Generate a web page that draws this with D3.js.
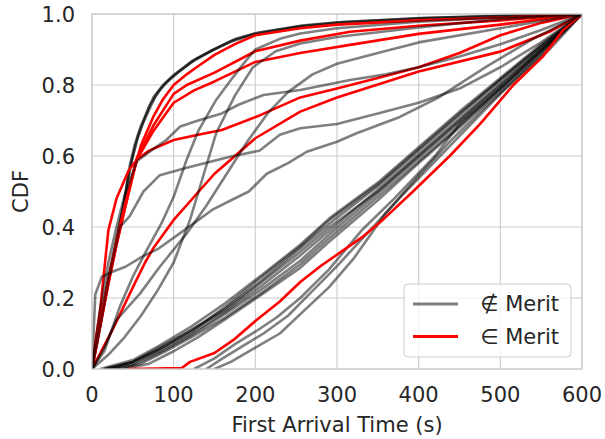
<!DOCTYPE html>
<html>
<head>
<meta charset="utf-8">
<script src="https://d3js.org/d3.v7.min.js"></script>
<style>
  body { margin: 0; background: white; }
  text { font-family: "DejaVu Sans", sans-serif; fill: #262626; }
</style>
</head>
<body>
<svg width="605" height="439"></svg>
<script>
// tick labels
var xTicks = [0, 100, 200, 300, 400, 500, 600];
var yTicks = [0.0, 0.2, 0.4, 0.6, 0.8, 1.0];

// not in Merit: fast curves at the top (several overlapping)
var grayTop1 = [[0,0],[5,0.07],[10,0.13],[20,0.25],[30,0.36],[34,0.41],[40,0.48],[46,0.57],[52,0.63],[59,0.68],[75,0.765],[87,0.8],[100,0.828],[124,0.87],[149,0.9],[173,0.927],[200,0.946],[255,0.966],[300,0.976],[400,0.988],[500,0.995],[600,1]];
var grayTop2 = [[0,0],[5,0.075],[10,0.14],[20,0.26],[30,0.37],[36,0.43],[42,0.5],[48,0.58],[55,0.645],[62,0.69],[78,0.77],[90,0.805],[105,0.835],[128,0.874],[152,0.903],[176,0.93],[205,0.948],[260,0.968],[310,0.978],[410,0.989],[510,0.995],[600,1]];
var grayTop3 = [[0,0],[6,0.07],[12,0.15],[22,0.27],[31,0.37],[38,0.45],[44,0.54],[50,0.6],[57,0.66],[70,0.74],[84,0.79],[98,0.822],[120,0.862],[145,0.895],[170,0.922],[198,0.942],[250,0.963],[305,0.975],[405,0.987],[505,0.994],[600,1]];

// not in Merit: middle curves
var grayKnee = [[0,0],[4,0.21],[12,0.26],[25,0.274],[41,0.288],[61,0.316],[82,0.34],[102,0.373],[122,0.406],[147,0.448],[171,0.476],[192,0.5],[214,0.55],[240,0.58],[263,0.612],[300,0.64],[324,0.664],[377,0.71],[426,0.767],[483,0.852],[540,0.93],[600,1]];
var grayHighKnee = [[0,0],[10,0.17],[20,0.3],[30,0.4],[40,0.49],[55,0.585],[75,0.62],[91,0.645],[108,0.683],[130,0.7],[159,0.72],[180,0.745],[210,0.772],[255,0.786],[316,0.814],[360,0.83],[400,0.85],[450,0.88],[500,0.915],[550,0.955],[600,1]];
var grayPlateau = [[0,0],[10,0.12],[20,0.25],[34,0.4],[46,0.43],[63,0.5],[83,0.546],[116,0.567],[169,0.598],[205,0.615],[230,0.66],[255,0.678],[300,0.69],[350,0.72],[400,0.75],[450,0.79],[500,0.85],[550,0.92],[600,1]];
var graySteep1 = [[0,0],[15,0.05],[34,0.175],[50,0.26],[67,0.335],[85,0.41],[100,0.485],[116,0.59],[130,0.67],[152,0.758],[173,0.823],[189,0.87],[200,0.9],[230,0.93],[255,0.945],[300,0.96],[400,0.978],[500,0.99],[600,1]];
var graySteep2 = [[0,0],[20,0.04],[40,0.09],[60,0.15],[80,0.22],[100,0.3],[120,0.42],[137,0.55],[152,0.664],[175,0.77],[197,0.85],[225,0.895],[255,0.917],[300,0.935],[400,0.962],[500,0.985],[600,1]];
var graySlow = [[0,0],[15,0.06],[30,0.138],[59,0.213],[83,0.288],[116,0.382],[140,0.46],[165,0.55],[190,0.64],[215,0.72],[240,0.78],[270,0.83],[300,0.86],[350,0.89],[400,0.92],[500,0.96],[600,1]];

// not in Merit: late, almost linear curves
var grayLate1 = [[15,0],[50,0.02],[82,0.06],[122,0.11],[163,0.17],[208,0.25],[255,0.34],[291,0.41],[350,0.515],[400,0.615],[450,0.715],[500,0.815],[550,0.91],[600,1]];
var grayLate2 = [[20,0],[50,0.015],[82,0.05],[122,0.1],[163,0.16],[208,0.235],[255,0.32],[291,0.39],[350,0.505],[400,0.605],[450,0.705],[500,0.805],[550,0.905],[600,1]];
var grayLate3 = [[25,0],[50,0.01],[82,0.045],[122,0.095],[163,0.155],[208,0.225],[255,0.305],[291,0.38],[350,0.495],[400,0.595],[450,0.695],[500,0.795],[550,0.9],[600,1]];
var grayLate4 = [[10,0],[50,0.025],[82,0.065],[122,0.12],[163,0.185],[208,0.265],[255,0.35],[291,0.425],[350,0.525],[400,0.625],[450,0.725],[500,0.82],[550,0.915],[600,1]];
var grayLate5 = [[30,0],[60,0.015],[90,0.05],[122,0.09],[163,0.145],[208,0.215],[255,0.295],[291,0.37],[350,0.485],[400,0.585],[450,0.685],[500,0.79],[550,0.895],[600,1]];
var grayLate6 = [[20,0],[50,0.02],[82,0.055],[122,0.105],[163,0.175],[208,0.26],[255,0.345],[291,0.42],[350,0.52],[400,0.62],[450,0.72],[500,0.815],[550,0.91],[600,1]];
var grayLate7 = [[40,0],[70,0.015],[100,0.05],[130,0.09],[163,0.14],[208,0.21],[255,0.285],[291,0.36],[350,0.475],[400,0.58],[450,0.68],[500,0.785],[550,0.89],[600,1]];
var grayLate8 = [[15,0],[50,0.02],[82,0.055],[122,0.11],[163,0.165],[208,0.245],[255,0.33],[291,0.4],[350,0.5],[400,0.6],[450,0.7],[500,0.8],[550,0.9],[600,1]];
var grayLate9 = [[125,0],[150,0.03],[175,0.07],[200,0.105],[226,0.145],[255,0.2],[290,0.28],[330,0.39],[370,0.48],[420,0.6],[450,0.69],[500,0.79],[550,0.895],[600,1]];
var grayLate10 = [[140,0],[160,0.03],[185,0.065],[210,0.1],[240,0.15],[270,0.22],[300,0.29],[340,0.39],[380,0.49],[420,0.585],[460,0.68],[500,0.775],[550,0.885],[600,1]];
var grayLate11 = [[150,0],[170,0.02],[200,0.06],[230,0.1],[260,0.165],[290,0.23],[320,0.31],[360,0.44],[400,0.545],[440,0.645],[480,0.735],[520,0.82],[560,0.9],[600,1]];

// in Merit
var red1 = [[0,0],[10,0.13],[20,0.25],[30,0.36],[40,0.46],[50,0.55],[60,0.63],[75,0.71],[87,0.76],[100,0.8],[116,0.83],[128,0.85],[150,0.885],[175,0.915],[200,0.94],[255,0.96],[300,0.97],[400,0.982],[500,0.99],[600,1]];
var red2 = [[0,0],[10,0.12],[20,0.24],[30,0.35],[40,0.45],[55,0.595],[75,0.685],[100,0.775],[116,0.8],[150,0.835],[200,0.895],[255,0.925],[316,0.95],[400,0.967],[500,0.982],[600,1]];
var red3 = [[0,0],[10,0.12],[20,0.24],[30,0.35],[40,0.45],[55,0.59],[75,0.67],[100,0.75],[125,0.785],[150,0.81],[200,0.865],[255,0.89],[316,0.913],[400,0.944],[500,0.97],[600,1]];
var red4 = [[0,0],[5,0.09],[10,0.166],[20,0.39],[30,0.48],[45,0.56],[55,0.59],[70,0.615],[100,0.645],[130,0.66],[159,0.673],[206,0.715],[255,0.765],[300,0.79],[350,0.82],[400,0.85],[450,0.89],[500,0.94],[550,0.975],[600,1]];
var red5 = [[0,0],[25,0.11],[50,0.23],[65,0.3],[75,0.34],[100,0.42],[150,0.55],[200,0.65],[255,0.725],[300,0.765],[400,0.838],[500,0.894],[560,0.95],[600,1]];
var red6 = [[45,0],[110,0.003],[120,0.02],[150,0.045],[175,0.085],[200,0.135],[230,0.19],[255,0.245],[280,0.29],[305,0.33],[330,0.37],[356,0.42],[393,0.5],[438,0.6],[475,0.69],[516,0.8],[552,0.88],[577,0.955],[600,1]];

var grayBack = [grayTop1, grayTop2, grayTop3, grayLate1, grayLate2, grayLate3, grayLate4, grayLate5, grayLate6, grayLate7, grayLate8, grayLate9, grayLate10, grayLate11];
var redCurves = [red1, red2, red3, red4, red5, red6];
var grayFront = [grayKnee, grayHighKnee, grayPlateau, graySteep1, graySteep2, graySlow];

var legendLabels = ["\u2209 Merit", "\u2208 Merit"];

var svg = d3.select("svg");
var xs = d3.scaleLinear().domain([0, 600]).range([92, 582]);
var ys = d3.scaleLinear().domain([0, 1]).range([369, 14]);

//grid
svg.append("g").selectAll("line").data(xTicks).enter().append("line")
   .attr("x1", d => xs(d)).attr("x2", d => xs(d))
   .attr("y1", ys(0)).attr("y2", ys(1))
   .style("stroke", "#cccccc").style("stroke-width", 1.1);
svg.append("g").selectAll("line").data(yTicks).enter().append("line")
   .attr("x1", xs(0)).attr("x2", xs(600))
   .attr("y1", d => ys(d)).attr("y2", d => ys(d))
   .style("stroke", "#cccccc").style("stroke-width", 1.1);

//clip for the curves
svg.append("clipPath").attr("id", "plotclip").append("rect")
   .attr("x", xs(0)).attr("y", ys(1))
   .attr("width", xs(600) - xs(0)).attr("height", ys(0) - ys(1));

var line = d3.line().x(d => xs(d[0])).y(d => ys(d[1]));
var curves = svg.append("g").attr("clip-path", "url(#plotclip)");

function drawCurves(list, color, opacity) {
    curves.append("g").selectAll("path").data(list).enter().append("path")
          .attr("d", line)
          .style("fill", "none")
          .style("stroke", color)
          .style("stroke-opacity", opacity)
          .style("stroke-width", 2.6)
          .style("stroke-linejoin", "round");
}
drawCurves(grayBack, "black", 0.5);
drawCurves(redCurves, "red", 1);
drawCurves(grayFront, "black", 0.5);

//frame
svg.append("rect")
   .attr("x", xs(0)).attr("y", ys(1))
   .attr("width", xs(600) - xs(0)).attr("height", ys(0) - ys(1))
   .style("fill", "none").style("stroke", "#cccccc").style("stroke-width", 1.3);

//tick labels
svg.append("g").selectAll("text").data(xTicks).enter().append("text")
   .attr("x", d => xs(d)).attr("y", 402)
   .style("text-anchor", "middle").style("font-size", "21px")
   .text(d => d);
svg.append("g").selectAll("text").data(yTicks).enter().append("text")
   .attr("x", 75).attr("y", d => ys(d) + 7.6)
   .style("text-anchor", "end").style("font-size", "21px")
   .text(d => d3.format(".1f")(d));

//axis labels
svg.append("text")
   .attr("x", (xs(0) + xs(600)) / 2).attr("y", 432)
   .style("text-anchor", "middle").style("font-size", "21px")
   .text("First Arrival Time (s)");
svg.append("text")
   .attr("transform", "translate(28," + (ys(0) + ys(1)) / 2 + ") rotate(-90)")
   .style("text-anchor", "middle").style("font-size", "21px")
   .text("CDF");

//legend
var legend = svg.append("g");
legend.append("rect")
      .attr("x", 404).attr("y", 284).attr("width", 167).attr("height", 73)
      .attr("rx", 4)
      .style("fill", "white").style("fill-opacity", 0.8)
      .style("stroke", "#cccccc").style("stroke-width", 1);
var legendColors = [["black", 0.5], ["red", 1]];
legendLabels.forEach(function(lab, i) {
    var ly = 304 + i * 32.5;
    legend.append("line")
          .attr("x1", 413).attr("x2", 458).attr("y1", ly).attr("y2", ly)
          .style("stroke", legendColors[i][0]).style("stroke-opacity", legendColors[i][1])
          .style("stroke-width", 2.8);
    legend.append("text")
          .attr("x", 559).attr("y", ly + 7.3)
          .style("text-anchor", "end").style("font-size", "21px")
          .text(lab);
});
</script>
</body>
</html>
